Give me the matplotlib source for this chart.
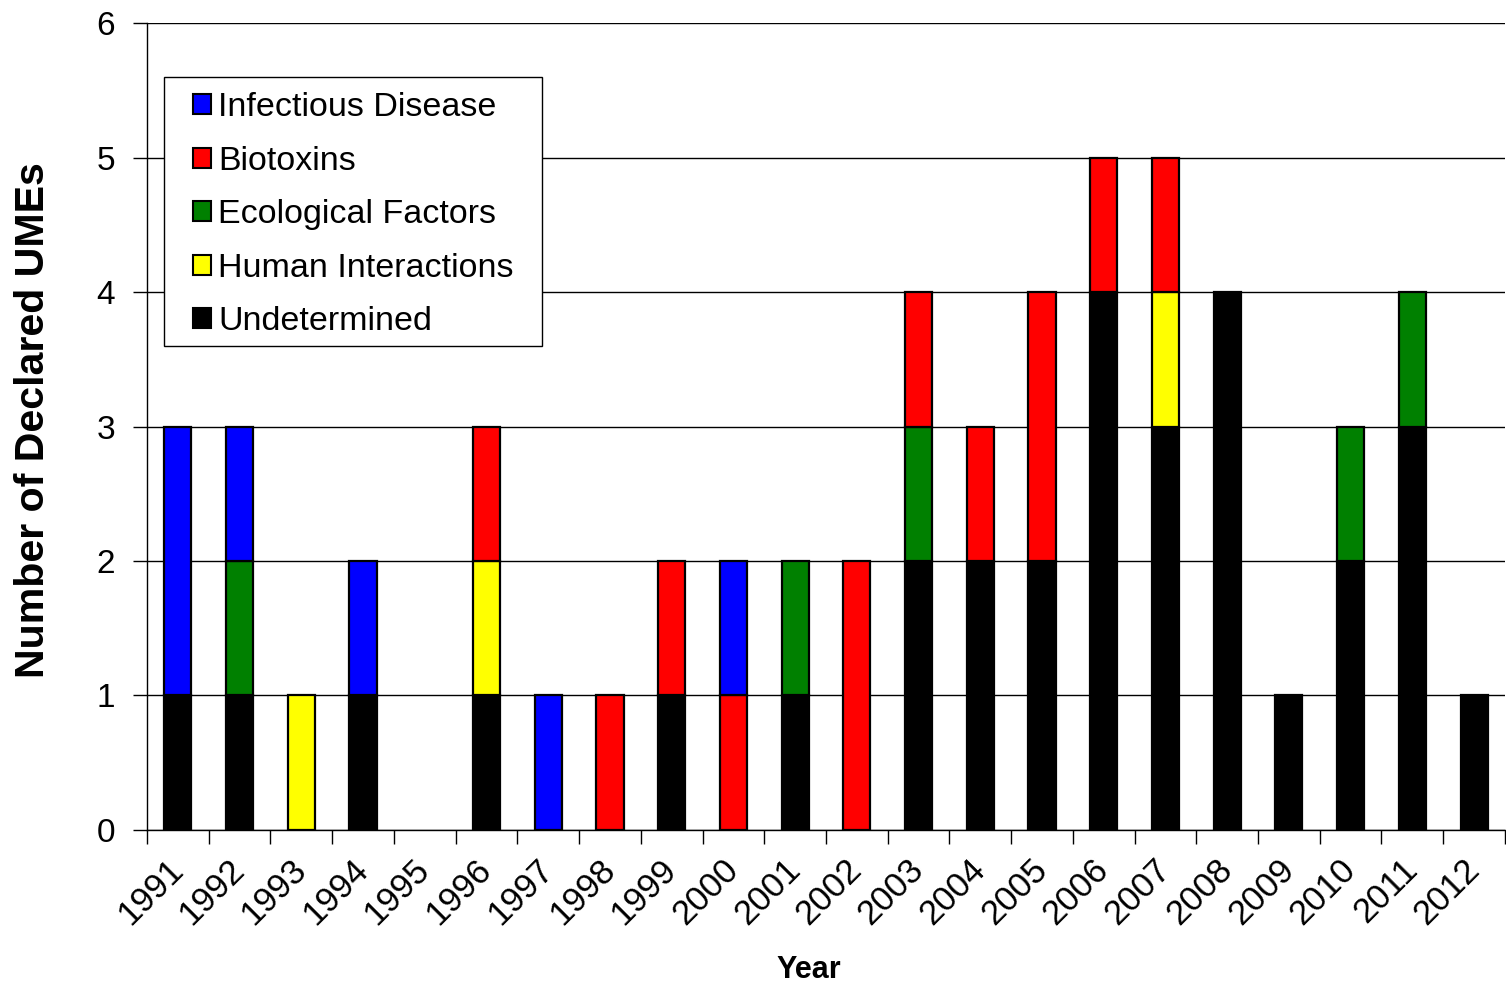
import numpy as np
import matplotlib.pyplot as plt
from matplotlib.patches import Patch, Rectangle

plt.rcParams['font.family'] = ['Liberation Sans', 'DejaVu Sans']

years = [str(y) for y in range(1991, 2013)]

# counts per category, one value per year 1991..2012
undetermined = [1, 1, 0, 1, 0, 1, 0, 0, 1, 0, 1, 0, 2, 2, 2, 4, 3, 4, 1, 2, 3, 1]
human = [0, 0, 1, 0, 0, 1, 0, 0, 0, 0, 0, 0, 0, 0, 0, 0, 1, 0, 0, 0, 0, 0]
ecological = [0, 1, 0, 0, 0, 0, 0, 0, 0, 0, 1, 0, 1, 0, 0, 0, 0, 0, 0, 1, 1, 0]
biotoxins = [0, 0, 0, 0, 0, 1, 0, 1, 1, 1, 0, 2, 1, 1, 2, 1, 1, 0, 0, 0, 0, 0]
infectious = [2, 1, 0, 1, 0, 0, 1, 0, 0, 1, 0, 0, 0, 0, 0, 0, 0, 0, 0, 0, 0, 0]

# bottom-to-top stacking order
series = [
    ("Undetermined", undetermined, "#000000"),
    ("Human Interactions", human, "#ffff00"),
    ("Ecological Factors", ecological, "#008000"),
    ("Biotoxins", biotoxins, "#ff0000"),
    ("Infectious Disease", infectious, "#0000ff"),
]


def main():
    fig = plt.figure(figsize=(15.06, 9.89), dpi=100)
    ax = fig.add_axes([0.0976, 0.1608, 0.9017, 0.8159])

    x = np.arange(len(years))
    bottom = np.zeros(len(years))
    for name, vals, col in series:
        vals = np.array(vals, dtype=float)
        mask = vals > 0
        ax.bar(x[mask], vals[mask], width=0.44, bottom=bottom[mask], color=col,
               edgecolor='black', linewidth=1.6, zorder=3)
        bottom += vals

    ax.set_xlim(-0.5, len(years) - 0.5)
    ax.set_ylim(0, 6)
    ax.set_yticks(range(7))
    ax.yaxis.grid(True, color='black', linewidth=1, zorder=0)
    ax.set_axisbelow(True)

    ax.set_xticks(x)
    ax.set_xticklabels(years, rotation=45, ha='right', va='center', rotation_mode='anchor')
    ax.set_xticks(np.arange(-0.5, len(years)), minor=True)
    ax.tick_params(axis='x', which='major', length=0, pad=25, labelsize=25)
    ax.tick_params(axis='x', which='minor', length=10, width=1, direction='out')
    ax.tick_params(axis='y', length=10, width=1, direction='out', labelsize=24, pad=13)

    for s in ['top', 'right']:
        ax.spines[s].set_visible(False)
    ax.spines['left'].set_linewidth(1)
    ax.spines['bottom'].set_linewidth(1)

    ax.set_xlabel("Year", fontsize=22, fontweight='bold')
    ax.xaxis.set_label_coords(0.4875, -0.155)
    ax.set_ylabel("Number of Declared UMEs", fontsize=29.6, fontweight='bold')
    ax.yaxis.set_label_coords(-0.07, 0.508)

    # legend box drawn separately so the side padding can be wider than the top padding
    ax.add_patch(Rectangle((0.0125, 0.5998), 0.2784, 0.3333, transform=ax.transAxes,
                           facecolor='white', edgecolor='black', linewidth=1, zorder=5))
    handles = [Patch(facecolor=col, edgecolor='black', linewidth=1.5, label=name)
               for name, vals, col in series[::-1]]
    leg = ax.legend(handles=handles, loc='upper left', bbox_to_anchor=(0.0339, 0.914),
                    borderaxespad=0, fontsize=24.5, frameon=False,
                    handlelength=0.52, handleheight=0.52,
                    handletextpad=0.22, labelspacing=0.66, borderpad=0)
    leg.set_zorder(6)

    fig.savefig('out.png', dpi=100)


if __name__ == "__main__":
    main()
